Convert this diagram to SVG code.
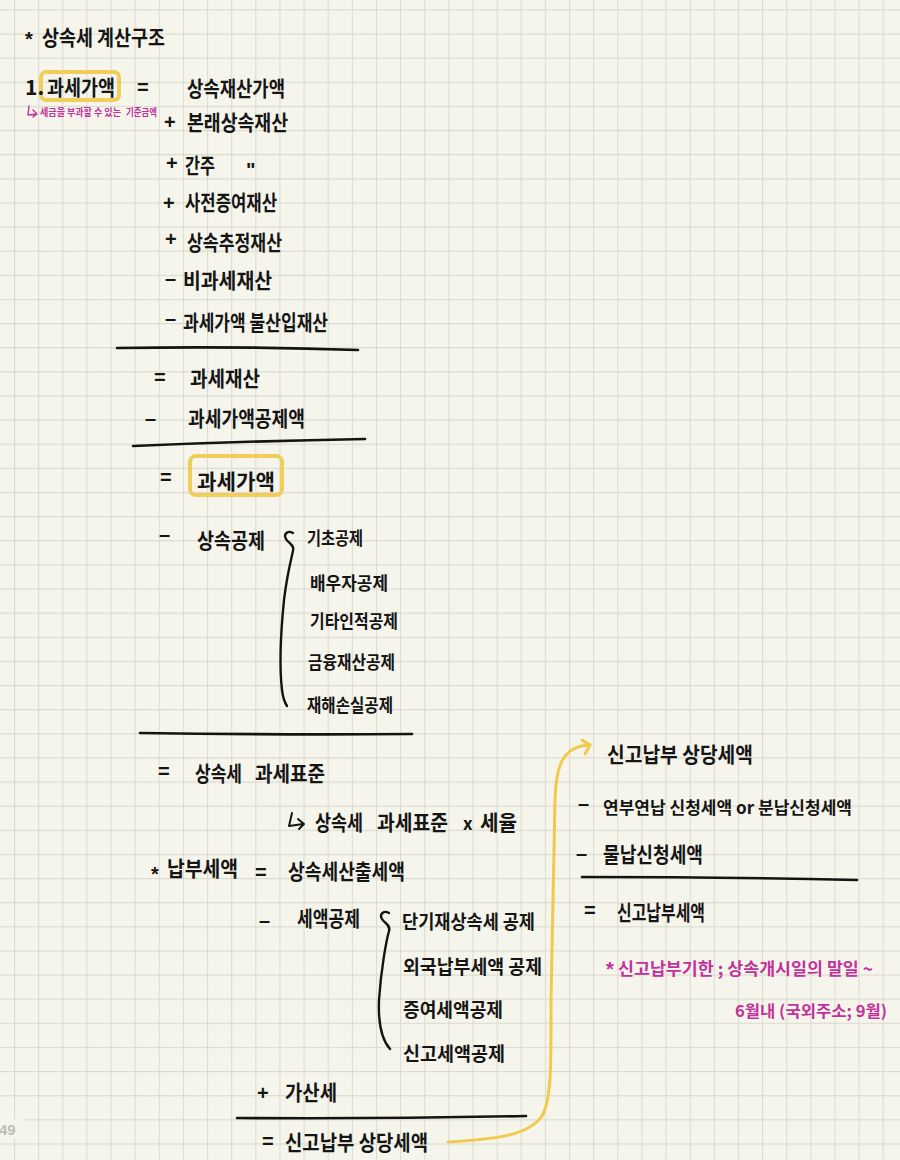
<svg xmlns="http://www.w3.org/2000/svg" width="900" height="1160" viewBox="0 0 900 1160">
<defs>
<pattern id="grid" patternUnits="userSpaceOnUse" x="14" y="9.3" width="24.13" height="24.13">
<path d="M0 0.5 H24.13 M0.5 0 V24.13" stroke="#dcdbd1" stroke-width="1.2" fill="none"/>
</pattern>
<style>
.t{font-family:"Noto Sans CJK KR","Noto Sans",sans-serif;font-weight:700;fill:#151515;font-size:21px}
.s{font-size:18px}
.m{font-size:19px}
.op{font-family:"Liberation Sans",Arial,sans-serif;font-weight:700;fill:#151515;font-size:20px}
.p{fill:#c2329c}
.ps{font-family:"Noto Sans CJK KR","Noto Sans",sans-serif;font-weight:700;fill:#c2329c;font-size:10px}
.rule{stroke:#141414;stroke-width:2.6;fill:none;stroke-linecap:round}
.brace{stroke:#141414;stroke-width:2.4;fill:none;stroke-linecap:round;stroke-linejoin:round}
.hl{stroke:#f1cd5a;stroke-width:4;fill:none}
.yarrow{stroke:#f2c94c;stroke-width:3;fill:none;stroke-linecap:round;stroke-linejoin:round}
.hook{stroke:#151515;stroke-width:2;fill:none;stroke-linecap:round;stroke-linejoin:round}
</style>
</defs>
<rect width="900" height="1160" fill="#f6f5ec"/>
<rect width="900" height="1160" fill="url(#grid)"/>
<rect x="0" y="1119" width="25" height="19" fill="#f6f5ec"/>
<text x="-1" y="1135" font-family="Liberation Sans, Arial, sans-serif" font-weight="700" font-size="15" fill="#bdbdb8">49</text>

<g id="title">
<text class="op" x="25" y="46">*</text>
<text class="t" x="42" y="45" textLength="123" lengthAdjust="spacingAndGlyphs">상속세 계산구조</text>
</g>

<g id="row-taxable-value">
<rect class="hl" x="41" y="72" width="78" height="28" rx="5"/>
<text class="t" x="25" y="95">1.</text>
<text class="t" x="47" y="95" textLength="68" lengthAdjust="spacingAndGlyphs">과세가액</text>
<text class="op" x="137" y="94">=</text>
<text class="t" x="187" y="96" textLength="98" lengthAdjust="spacingAndGlyphs">상속재산가액</text>
</g>

<g id="note-taxable-value">
<path d="M29 106 L28 115 L37 114 M33 110 L37 114 L33 117" stroke="#c2329c" stroke-width="1.4" fill="none" stroke-linecap="round" stroke-linejoin="round"/>
<text class="ps" x="40" y="116" textLength="81" lengthAdjust="spacingAndGlyphs">세금을 부과할 수 있는</text>
<text class="ps" x="126" y="116" textLength="31" lengthAdjust="spacingAndGlyphs">기준금액</text>
</g>

<g id="row-original">
<text class="op" x="164" y="129">+</text>
<text class="t" x="187" y="130" textLength="101" lengthAdjust="spacingAndGlyphs">본래상속재산</text>
</g>
<g id="row-deemed">
<text class="op" x="166" y="170">+</text>
<text class="t" x="185" y="173" textLength="30" lengthAdjust="spacingAndGlyphs">간주</text>
<text class="op" x="246" y="177">"</text>
</g>
<g id="row-prior-gift">
<text class="op" x="163" y="210">+</text>
<text class="t" x="185" y="210" textLength="92" lengthAdjust="spacingAndGlyphs">사전증여재산</text>
</g>
<g id="row-presumed">
<text class="op" x="165" y="246">+</text>
<text class="t" x="187" y="250" textLength="95" lengthAdjust="spacingAndGlyphs">상속추정재산</text>
</g>
<g id="row-nontaxable">
<text class="op" x="165" y="285">–</text>
<text class="t" x="183" y="288" textLength="89" lengthAdjust="spacingAndGlyphs">비과세재산</text>
</g>
<g id="row-excluded">
<text class="op" x="165" y="325">–</text>
<text class="t" x="183" y="330" textLength="145" lengthAdjust="spacingAndGlyphs">과세가액 불산입재산</text>
</g>

<g id="row-taxable-property">
<text class="op" x="154" y="384">=</text>
<text class="t" x="190" y="386" textLength="70" lengthAdjust="spacingAndGlyphs">과세재산</text>
</g>
<g id="row-deduction-amount">
<text class="op" x="145" y="425">–</text>
<text class="t" x="188" y="426" textLength="117" lengthAdjust="spacingAndGlyphs">과세가액공제액</text>
</g>

<g id="row-taxable-value-2">
<rect class="hl" x="190" y="456" width="92" height="39" rx="6"/>
<text class="op" x="160" y="484">=</text>
<text class="t" x="197" y="489" textLength="78" lengthAdjust="spacingAndGlyphs">과세가액</text>
</g>

<g id="row-inheritance-deduction">
<text class="op" x="159" y="541">–</text>
<text class="t" x="197" y="548" textLength="68" lengthAdjust="spacingAndGlyphs">상속공제</text>
</g>
<g id="inheritance-deduction-items">
<text class="t s" x="307" y="545" textLength="56" lengthAdjust="spacingAndGlyphs">기초공제</text>
<text class="t s" x="310" y="590" textLength="78" lengthAdjust="spacingAndGlyphs">배우자공제</text>
<text class="t s" x="310" y="628" textLength="88" lengthAdjust="spacingAndGlyphs">기타인적공제</text>
<text class="t s" x="308" y="669" textLength="87" lengthAdjust="spacingAndGlyphs">금융재산공제</text>
<text class="t s" x="307" y="712" textLength="86" lengthAdjust="spacingAndGlyphs">재해손실공제</text>
</g>

<g id="row-tax-base">
<text class="op" x="158" y="778">=</text>
<text class="t" y="781"><tspan x="195" textLength="47" lengthAdjust="spacingAndGlyphs">상속세</tspan><tspan x="255" textLength="70" lengthAdjust="spacingAndGlyphs">과세표준</tspan></text>
</g>
<g id="row-computed-tax">
<path class="hook" d="M292 813 L289 826 L303 824 M298 819 L304 824 L299 829"/>
<text class="t" y="830"><tspan x="315" textLength="48" lengthAdjust="spacingAndGlyphs">상속세</tspan><tspan x="377" textLength="71" lengthAdjust="spacingAndGlyphs">과세표준</tspan><tspan x="463" font-size="17">x</tspan><tspan x="480" textLength="37" lengthAdjust="spacingAndGlyphs">세율</tspan></text>
</g>

<g id="row-payable-tax">
<text class="op" x="151" y="881">*</text>
<text class="t" x="167" y="876" textLength="71" lengthAdjust="spacingAndGlyphs">납부세액</text>
<text class="op" x="255" y="879">=</text>
<text class="t" x="288" y="879" textLength="117" lengthAdjust="spacingAndGlyphs">상속세산출세액</text>
</g>
<g id="row-tax-credit">
<text class="op" x="259" y="927">–</text>
<text class="t" x="297" y="926" textLength="63" lengthAdjust="spacingAndGlyphs">세액공제</text>
</g>
<g id="tax-credit-items">
<text class="t m" x="402" y="929" textLength="133" lengthAdjust="spacingAndGlyphs">단기재상속세 공제</text>
<text class="t m" x="403" y="974" textLength="139" lengthAdjust="spacingAndGlyphs">외국납부세액 공제</text>
<text class="t m" x="403" y="1017" textLength="100" lengthAdjust="spacingAndGlyphs">증여세액공제</text>
<text class="t m" x="403" y="1061" textLength="102" lengthAdjust="spacingAndGlyphs">신고세액공제</text>
</g>
<g id="row-penalty">
<text class="op" x="257" y="1100">+</text>
<text class="t" x="285" y="1100" textLength="52" lengthAdjust="spacingAndGlyphs">가산세</text>
</g>
<g id="row-equivalent-tax">
<text class="op" x="262" y="1148">=</text>
<text class="t" x="285" y="1150" textLength="143" lengthAdjust="spacingAndGlyphs">신고납부 상당세액</text>
</g>

<g id="right-equivalent-tax">
<text class="t" x="607" y="762" textLength="146" lengthAdjust="spacingAndGlyphs">신고납부 상당세액</text>
</g>
<g id="right-installment">
<text class="op" x="578" y="810">–</text>
<text class="t" x="603" y="814" style="font-size:17px" textLength="249" lengthAdjust="spacingAndGlyphs">연부연납 신청세액 or 분납신청세액</text>
</g>
<g id="right-in-kind">
<text class="op" x="576" y="860">–</text>
<text class="t" x="603" y="862" textLength="100" lengthAdjust="spacingAndGlyphs">물납신청세액</text>
</g>
<g id="right-report-tax">
<text class="op" x="584" y="917">=</text>
<text class="t" x="617" y="920" textLength="88" lengthAdjust="spacingAndGlyphs">신고납부세액</text>
</g>
<g id="note-deadline">
<text class="op p" x="606" y="976">*</text>
<text class="t p" x="618" y="975" style="font-size:16.5px" textLength="255" lengthAdjust="spacingAndGlyphs">신고납부기한 ; 상속개시일의 말일 ~</text>
<text class="t p" x="735" y="1017" style="font-size:16px" textLength="152" lengthAdjust="spacingAndGlyphs">6월내 (국외주소; 9월)</text>
</g>

<g id="rules">
<path class="rule" d="M117 348 Q 240 346 358 350"/>
<path class="rule" d="M133 446 Q 250 441 365 439"/>
<path class="rule" d="M140 733 Q 280 735 412 734"/>
<path class="rule" d="M237 1118 Q 380 1119 526 1116"/>
<path class="rule" d="M582 877 Q 720 877 857 880"/>
<path class="brace" d="M293 533 C 288 530, 283 534, 286 539 C 288 543, 295 545, 293 551 C 291 560, 287 575, 284 600 C 281 630, 279 665, 282 690 C 283 698, 285 703, 287 706"/>
<path class="brace" d="M389 913 C 384 910, 379 914, 382 919 C 384 923, 391 925, 389 931 C 386 942, 381 970, 379 1000 C 378 1025, 382 1040, 390 1049"/>
</g>

<g id="connectors">
<path class="yarrow" d="M448 1142 C 495 1139, 528 1136, 542 1116 C 552 1098, 551 1060, 551 1000 L 555 800 C 556 768, 561 746, 590 745"/>
<path class="yarrow" d="M582 740 L590 745 L585 754"/>
</g>
</svg>
